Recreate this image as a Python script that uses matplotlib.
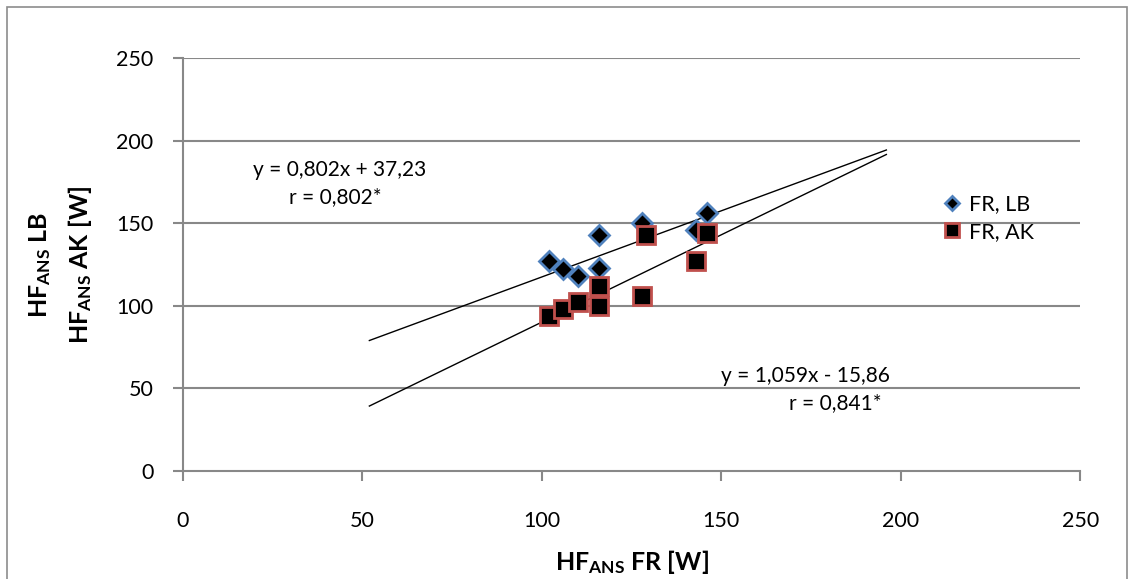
import numpy as np
import matplotlib
matplotlib.use('Agg')
import matplotlib.pyplot as plt
from matplotlib.lines import Line2D

plt.rcParams['font.family'] = ['Lato', 'DejaVu Sans']
plt.rcParams['mathtext.fontset'] = 'custom'
plt.rcParams['mathtext.rm'] = 'Lato:bold'
plt.rcParams['mathtext.it'] = 'Lato:bold:italic'
plt.rcParams['mathtext.bf'] = 'Lato:bold'

# FR, LB series
lb_x = [102, 106, 110, 116, 116, 128, 143, 146]
lb_y = [127, 122, 118, 143, 123, 150, 146, 156]
# FR, AK series
ak_x = [102, 106, 110, 116, 116, 128, 129, 143, 146]
ak_y = [94, 98, 102, 112, 100, 106, 143, 127, 144]

# trend lines (slope, intercept) and range
lb_fit = (0.802, 37.23)
ak_fit = (1.059, -15.86)
trend_x = [52, 196]

ticks = [0, 50, 100, 150, 200, 250]
grid_col = '#888888'

fig = plt.figure(figsize=(11.29, 5.79), dpi=100)
ax = fig.add_axes([0.1618, 0.187, 0.795, 0.7123])

# outer chart border
fig.add_artist(plt.Rectangle((6.5/1129, -0.05), (1127-6.5)/1129, 1.05 - 6.5/579,
                             transform=fig.transFigure, fill=False,
                             edgecolor='#8c8c8c', linewidth=1.2))

for y in ticks[1:]:
    ax.axhline(y, color=grid_col, linewidth=1.5, zorder=1)

tx = np.array(trend_x, dtype=float)
ax.plot(tx, lb_fit[0]*tx + lb_fit[1], color='black', linewidth=1, zorder=2)
ax.plot(tx, ak_fit[0]*tx + ak_fit[1], color='black', linewidth=1, zorder=2)

ax.plot(lb_x, lb_y, linestyle='none', marker='D', markersize=10,
        markerfacecolor='black', markeredgecolor='#4f81bd', markeredgewidth=2,
        zorder=3)
ax.plot(ak_x, ak_y, linestyle='none', marker='s', markersize=13,
        markerfacecolor='black', markeredgecolor='#c0504d', markeredgewidth=2,
        zorder=4)

ax.set_xlim(0, 250)
ax.set_ylim(0, 250)
ax.set_xticks(ticks)
ax.set_yticks(ticks)
ax.tick_params(labelsize=15.5, colors=grid_col, labelcolor='black',
               length=7, width=1.5, pad=14)
ax.tick_params(axis='x', pad=22)
for s in ['top', 'right']:
    ax.spines[s].set_visible(False)
for s in ['left', 'bottom']:
    ax.spines[s].set_color(grid_col)
    ax.spines[s].set_linewidth(1.5)

ax.set_xlabel(r'$\mathrm{HF_{ANS}}$ FR [W]', fontsize=18, fontweight='bold',
              labelpad=12)
fig.text(40/1129, 1 - 265/579, r'$\mathrm{HF_{ANS}}$ LB', rotation=90,
         fontsize=18, fontweight='bold', ha='center', va='center')
fig.text(80/1129, 1 - 265/579, r'$\mathrm{HF_{ANS}}$ AK [W]', rotation=90,
         fontsize=18, fontweight='bold', ha='center', va='center')

fig.text(340/1129, 1 - 170/579, 'y = 0,802x + 37,23', fontsize=15,
         ha='center', va='center')
fig.text(335/1129, 1 - 197/579, 'r = 0,802*', fontsize=15,
         ha='center', va='center')
fig.text(805/1129, 1 - 376/579, 'y = 1,059x - 15,86', fontsize=15,
         ha='center', va='center')
fig.text(835/1129, 1 - 403/579, 'r = 0,841*', fontsize=15,
         ha='center', va='center')

handles = [
    Line2D([], [], linestyle='none', marker='D', markersize=7,
           markerfacecolor='black', markeredgecolor='#4f81bd',
           markeredgewidth=2),
    Line2D([], [], linestyle='none', marker='s', markersize=10,
           markerfacecolor='black', markeredgecolor='#c0504d',
           markeredgewidth=2),
]
fig.legend(handles, ['FR, LB', 'FR, AK'], loc='center left',
           bbox_to_anchor=(935/1129, 1 - 218/579), frameon=False,
           fontsize=15.5, handlelength=0.8, handletextpad=0.4,
           labelspacing=0.35, borderaxespad=0)

fig.savefig('out.png', dpi=100)
